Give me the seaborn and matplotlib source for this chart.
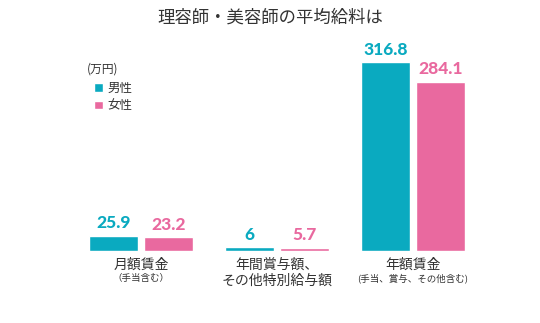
import matplotlib
matplotlib.use("Agg")
import matplotlib.pyplot as plt
import seaborn as sns
import pandas as pd

categories = ["月額賃金", "年間賞与額、\nその他特別給与額", "年額賃金"]
sub_labels = ["（手当含む）", "", "(手当、賞与、その他含む)"]
genders = ["男性", "女性"]
male = [25.9, 6, 316.8]
female = [23.2, 5.7, 284.1]
male_labels = ["25.9", "6", "316.8"]
female_labels = ["23.2", "5.7", "284.1"]
unit_label = "(万円)"
title = "理容師・美容師の平均給料は"
colors = ["#0AAAC0", "#E9699F"]

sns.set_theme(style="white")
plt.rcParams["font.family"] = ["Noto Sans CJK JP", "DejaVu Sans"]

df = pd.DataFrame({
    "cat": categories * 2,
    "gender": [genders[0]] * 3 + [genders[1]] * 3,
    "value": male + female,
})

fig = plt.figure(figsize=(5.4, 3.23), dpi=100)
ax = fig.add_axes([0, 0.2229, 1, 0.7771])
sns.barplot(data=df, x="cat", y="value", hue="gender", order=categories,
            hue_order=genders, palette=colors, width=0.8, gap=0.1,
            saturation=1, ax=ax, legend=True)
ax.set_xlim(-141 / 136, (540 - 141) / 136)
ax.set_ylim(0, 420.7)
for s in ax.spines.values():
    s.set_visible(False)
ax.set_xticks([])
ax.set_yticks([])
ax.set_xlabel("")
ax.set_ylabel("")

for cont, labs, col in zip(ax.containers, [male_labels, female_labels], colors):
    ax.bar_label(cont, labels=labs, padding=3, color=col, fontsize=12.5,
                 fontweight="black", family=["Lato", "DejaVu Sans"])

# category labels
for i, (c, s) in enumerate(zip(categories, sub_labels)):
    ax.text(i, -11, c, ha="center", va="top", fontsize=10, color="#333333",
            linespacing=1.2)
    if s:
        ax.text(i, -38, s, ha="center", va="top", fontsize=6.8, color="#333333")

sns.move_legend(ax, "upper left", bbox_to_anchor=(94 / 540, 1 - 82 / 251),
                title=None, frameon=False, fontsize=9,
                handlelength=0.7, handleheight=0.7, handletextpad=0.4,
                labelspacing=0.35, borderaxespad=0, borderpad=0)
leg = ax.get_legend()
for t in leg.get_texts():
    t.set_color("#333333")

fig.text(87 / 540, 1 - 69 / 323, unit_label, ha="left", va="center",
         fontsize=8.5, color="#333333")
fig.text(0.5, 1 - 18 / 323, title, ha="center", va="center",
         fontsize=12.5, color="#333333")

fig.savefig("out.png", dpi=100, facecolor="white")
